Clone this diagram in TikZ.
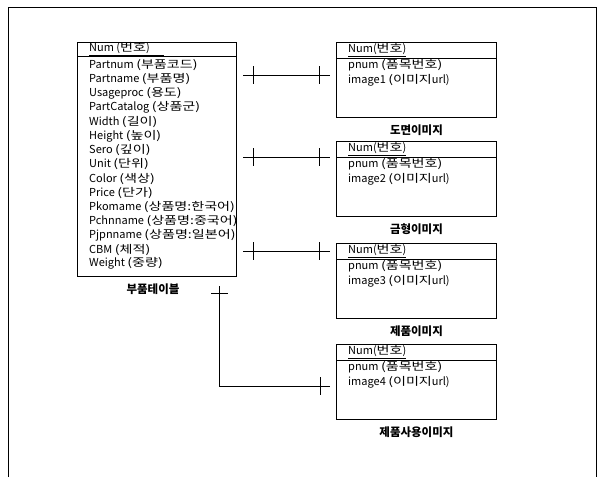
\documentclass[tikz,border=0pt]{standalone}
\usepackage{fontspec}
\setmainfont{Noto Sans CJK KR}
\usepackage{graphicx}
\newcommand\K[1]{\scalebox{1.28}[1]{#1}}
\begin{document}
\begin{tikzpicture}[x=1pt,y=-1pt, font=\fontsize{11}{12}\selectfont,
  box/.style={draw, line width=0.9pt, anchor=north west, inner sep=0},
  row/.style={anchor=west, inner sep=0},
  lbl/.style={font=\fontsize{11.5}{13}\selectfont\bfseries, inner sep=0},
  conn/.style={line width=0.8pt},
  tick/.style={line width=0.9pt}]
\useasboundingbox (0,0) rectangle (597,477);
\draw[line width=0.9pt] (8,477) -- (8,7) -- (596,7) -- (596,477);
% parts table
\node[box, minimum width=159pt, minimum height=234pt] (parts) at (77,42) {};
\draw[line width=0.8pt] ([yshift=-14pt]parts.north west) -- ([yshift=-14pt]parts.north east);
\node[row] (ph) at (89,49) {\underline{Num (\K{번호})\hspace{14pt}}};
\node[row] (p1) at (89,65) {Partnum \K{(부품코드)}};
\node[row] (p2) at (89,79.2) {Partname \K{(부품명)}};
\node[row] (p3) at (89,93.4) {Usageproc \K{(용도)}};
\node[row] (p4) at (89,107.6) {PartCatalog \K{(상품군)}};
\node[row] (p5) at (89,121.8) {Width \K{(길이)}};
\node[row] (p6) at (89,136) {Height \K{(높이)}};
\node[row] (p7) at (89,150.2) {Sero \K{(깊이)}};
\node[row] (p8) at (89,164.4) {Unit \K{(단위)}};
\node[row] (p9) at (89,178.6) {Color \K{(색상)}};
\node[row] (p10) at (89,192.8) {Price \K{(단가)}};
\node[row] (p11) at (89,207) {Pkomame \K{(상품명:한국어)}};
\node[row] (p12) at (89,221.2) {Pchnname \K{(상품명:중국어)}};
\node[row] (p13) at (89,235.4) {Pjpnname \K{(상품명:일본어)}};
\node[row] (p14) at (89,249.6) {CBM \K{(체적)}};
\node[row] (p15) at (89,263.8) {Weight \K{(중량)}};
\node[lbl] (pl) at (153,289) {부품테이블};
% image boxes
\foreach \n/\t/\lab in {1/42/도면이미지, 2/141/금형이미지, 3/243/제품이미지, 4/344/제품사용이미지}{
  \node[box, minimum width=160pt, minimum height=75pt] (b\n) at (336,\t) {};
  \draw[line width=0.8pt] ([yshift=-16pt]b\n.north west) -- ([yshift=-16pt]b\n.north east);
  \node[row] (b\n h) at (348,\t+8) {\underline{Num(\K{번호})}};
  \node[row] (b\n p) at (348,\t+23) {pnum \K{(품목번호)}};
  \node[row] (b\n i) at (348,\t+38) {image\n\ \K{(이미지}url)};
  \node[lbl] (b\n l) at ([yshift=-12pt]b\n.south) {\lab};
}
% connectors
\foreach \n/\y in {1/75, 2/157, 3/251}{
  \coordinate (c\n a) at (243,\y);
  \coordinate (c\n b) at (330,\y);
  \draw[conn] (c\n a) -- (c\n b);
  \draw[tick] ([xshift=10pt]c\n a) ++(0,-9) -- ++(0,18);
  \draw[tick] ([xshift=-11pt]c\n b) ++(0,-9) -- ++(0,18);
}
\coordinate (c4a) at (219,286);
\coordinate (c4c) at (219,386);
\coordinate (c4b) at (330,386);
\draw[conn] (c4a) -- (c4c) -- (c4b);
\draw[tick] ([yshift=-7pt]c4a) ++(-8,0) -- ++(17,0);
\draw[tick] ([xshift=-10pt]c4b) ++(0,-9) -- ++(0,18);
\end{tikzpicture}
\end{document}
